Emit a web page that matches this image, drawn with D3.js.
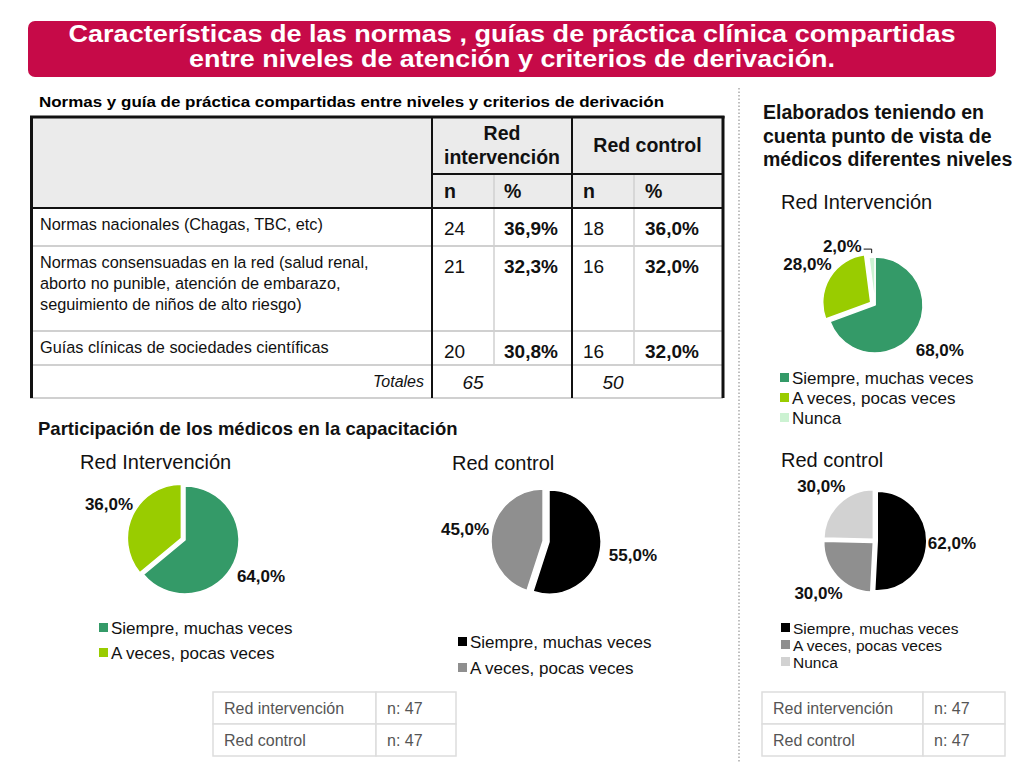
<!DOCTYPE html>
<html><head><meta charset="utf-8">
<script src="https://cdn.jsdelivr.net/npm/d3@7"></script>
<style>body{margin:0;background:#fff}svg{display:block;font-family:"Liberation Sans",Arial,Helvetica,sans-serif}</style>
</head><body><svg id="c" width="1024" height="768"></svg>
<script>
// ---------- DATA ----------
const titleLines = ["Características de las normas , guías de práctica clínica compartidas",
                    "entre niveles de atención y criterios de derivación."];
const tableTitle = "Normas y guía de práctica compartidas entre niveles y criterios de derivación";
const groupHeaders = [["Red","intervención"],["Red control"]];
const subHeaders = ["n","%","n","%"];
const rowLabels = [["Normas nacionales (Chagas, TBC, etc)"],
                   ["Normas consensuadas en la red (salud renal,","aborto no punible, atención de embarazo,","seguimiento de niños de alto riesgo)"],
                   ["Guías clínicas de sociedades científicas"]];
const intervN = [24,21,20];
const intervPct = [36.9,32.3,30.8];
const controlN = [18,16,16];
const controlPct = [36.0,32.0,32.0];
const totalsLabel = "Totales";
const totals = [65,50];

const partTitle = "Participación de los médicos en la capacitación";
const partCategories = ["Siempre, muchas veces","A veces, pocas veces"];
const partIntervencion = [64,36];
const partControl = [55,45];

const elabTitle = ["Elaborados teniendo en","cuenta punto de vista de","médicos diferentes niveles"];
const elabCategories = ["Siempre, muchas veces","A veces, pocas veces","Nunca"];
const elabIntervencion = [68,28,2];
const elabControl = [62,30,30];

const pieTitles = {pi:"Red Intervención", pc:"Red control"};
const sampleGroups = ["Red intervención","Red control"];
const sampleN = [47,47];

// ---------- DRAW ----------
const svg = d3.select("#c");
const fmt = v => v.toFixed(1).replace(".",",") + "%";

// Title banner
svg.append("rect").attr("x",28).attr("y",21).attr("width",968).attr("height",56)
  .attr("rx",7).attr("fill","#C60A48");
const titleW = [887, 646];
titleLines.forEach((t,i)=>{
  svg.append("text").attr("x",512).attr("y",42+i*25).attr("text-anchor","middle")
    .attr("fill","#fff").attr("font-weight","bold").attr("font-size",23.5)
    .style("font-family",'"Liberation Sans Narrow","Arial Narrow","Liberation Sans",Arial,sans-serif')
    .attr("textLength",titleW[i]).attr("lengthAdjust","spacingAndGlyphs").text(t);
});

// Dotted separator
svg.append("line").attr("x1",739).attr("x2",739).attr("y1",88).attr("y2",762)
  .attr("stroke","#aaa").attr("stroke-width",1.5).attr("stroke-dasharray","1.5,2");

// ---------- TABLE ----------
svg.append("text").attr("x",39).attr("y",107).attr("font-weight","bold").attr("font-size",15.5)
  .attr("textLength",625).attr("lengthAdjust","spacingAndGlyphs").text(tableTitle);

const colX = [30,432,494,572,634,723];
const rowY = [116,174,208,246,331,365,398];
const tg = svg.append("g");
tg.append("rect").attr("x",colX[0]).attr("y",rowY[0]).attr("width",colX[5]-colX[0]).attr("height",rowY[2]-rowY[0]).attr("fill","#EBEBEB");

// light lines
const light = "#D0D0D0";
[rowY[3],rowY[4],rowY[5],rowY[6]].forEach(y=>{
  tg.append("line").attr("x1",colX[0]).attr("x2",colX[5]).attr("y1",y).attr("y2",y).attr("stroke",light).attr("stroke-width",2);
});
[colX[2],colX[4]].forEach(x=>{
  tg.append("line").attr("x1",x).attr("x2",x).attr("y1",rowY[1]).attr("y2",rowY[5]).attr("stroke",light).attr("stroke-width",1.5);
});
// dark lines
const dark = "#111";
tg.append("line").attr("x1",colX[0]).attr("x2",colX[5]+1.5).attr("y1",rowY[0]+1).attr("y2",rowY[0]+1).attr("stroke",dark).attr("stroke-width",3);
tg.append("line").attr("x1",colX[0]+1.5).attr("x2",colX[0]+1.5).attr("y1",rowY[0]).attr("y2",rowY[6]).attr("stroke",dark).attr("stroke-width",3);
tg.append("line").attr("x1",colX[5]).attr("x2",colX[5]).attr("y1",rowY[0]).attr("y2",rowY[6]).attr("stroke",dark).attr("stroke-width",3);
[colX[1],colX[3]].forEach(x=>{
  tg.append("line").attr("x1",x).attr("x2",x).attr("y1",rowY[0]).attr("y2",rowY[6]).attr("stroke",dark).attr("stroke-width",2);
});
tg.append("line").attr("x1",colX[1]).attr("x2",colX[5]).attr("y1",rowY[1]).attr("y2",rowY[1]).attr("stroke",dark).attr("stroke-width",2);
tg.append("line").attr("x1",colX[0]).attr("x2",colX[5]).attr("y1",rowY[2]).attr("y2",rowY[2]).attr("stroke",dark).attr("stroke-width",2);

// headers
const hfs = 19.5;
groupHeaders.forEach((lines,gi)=>{
  const cx = (colX[1+gi*2] + colX[3+gi*2]) / 2;
  const startY = lines.length===2 ? 140 : 152;
  lines.forEach((l,li)=>{
    tg.append("text").attr("x",cx).attr("y",startY+li*24).attr("text-anchor","middle")
      .attr("font-weight","bold").attr("font-size",hfs).attr("fill","#111").text(l);
  });
});
const cellPad = [12,10,11,11];
subHeaders.forEach((s,i)=>{
  tg.append("text").attr("x",colX[1+i]+cellPad[i]).attr("y",198).attr("font-weight","bold")
    .attr("font-size",hfs).attr("fill","#111").text(s);
});
// data rows
rowLabels.forEach((lines,ri)=>{
  const top = rowY[2+ri];
  lines.forEach((l,li)=>{
    tg.append("text").attr("x",40).attr("y",top+22+li*21).attr("font-size",16.3).attr("fill","#111").text(l);
  });
  const cells = [String(intervN[ri]), fmt(intervPct[ri]), String(controlN[ri]), fmt(controlPct[ri])];
  cells.forEach((c,ci)=>{
    tg.append("text").attr("x",colX[1+ci]+cellPad[ci]).attr("y",top+27).attr("font-size",19)
      .attr("font-weight", ci%2===1 ? "bold" : "normal").attr("fill","#111").text(c);
  });
});
// totals
tg.append("text").attr("x",424).attr("y",387).attr("text-anchor","end").attr("font-style","italic")
  .attr("font-size",16).attr("fill","#111").text(totalsLabel);
totals.forEach((t,i)=>{
  tg.append("text").attr("x",(colX[1+i*2]+colX[2+i*2])/2 + 10).attr("y",389).attr("text-anchor","middle")
    .attr("font-style","italic").attr("font-size",19).attr("fill","#111").text(t);
});

// ---------- PIES ----------
const greens = ["#349A68","#99CC00","#CCF2D2"];
const greys = ["#000000","#8F8F8F","#D2D2D2"];

function drawPie(cfg){
  const g = svg.append("g");
  const arcs = d3.pie().sort(null).value(d=>d)(cfg.values);
  const arc = d3.arc().innerRadius(0).outerRadius(cfg.r);
  g.selectAll("path").data(arcs).join("path")
    .attr("d", arc)
    .attr("transform",(d,i)=>{
      const a=(d.startAngle+d.endAngle)/2, e=cfg.explode[i]||0;
      return `translate(${cfg.cx+Math.sin(a)*e},${cfg.cy-Math.cos(a)*e})`;
    })
    .attr("fill",(d,i)=>cfg.colors[i]).attr("stroke","#fff").attr("stroke-width",cfg.stroke);
  arcs.forEach((d,i)=>{
    const a=(d.startAngle+d.endAngle)/2;
    const label = fmt(cfg.values[i]);
    if (d.endAngle-d.startAngle < 0.2) {
      const px = cfg.cx + Math.sin(a)*(cfg.r+4), py = cfg.cy - Math.cos(a)*(cfg.r+4);
      g.append("polyline").attr("points",`${px},${py} ${px},${py-4} ${px-8},${py-4}`)
        .attr("fill","none").attr("stroke","#111").attr("stroke-width",1);
      g.append("text").attr("x",px-10).attr("y",py-4+3).attr("text-anchor","end")
        .attr("font-weight","bold").attr("font-size",17).attr("fill","#111").text(label);
    } else {
      const off = cfg.r + cfg.labelOff;
      g.append("text").attr("x",cfg.cx+Math.sin(a)*off).attr("y",cfg.cy-Math.cos(a)*off+6)
        .attr("text-anchor","middle").attr("font-weight","bold").attr("font-size",17)
        .attr("fill","#111").text(label);
    }
  });
}
function drawLegend(x,y0,step,items,colors,fs){
  items.forEach((t,i)=>{
    svg.append("rect").attr("x",x).attr("y",y0+i*step-5).attr("width",9).attr("height",9).attr("fill",colors[i]);
    svg.append("text").attr("x",x+12).attr("y",y0+i*step+6).attr("font-size",fs||17).attr("fill","#111").text(t);
  });
}
function pieTitle(x,y,t){
  svg.append("text").attr("x",x).attr("y",y).attr("font-size",20).attr("fill","#111").text(t);
}

// Participación
svg.append("text").attr("x",38).attr("y",435).attr("font-weight","bold").attr("font-size",18.5).attr("fill","#111").text(partTitle);
pieTitle(80,469,pieTitles.pi);
drawPie({cx:185,cy:540,r:54,values:partIntervencion,colors:greens,explode:[0,4],stroke:1.5,labelOff:30});
drawLegend(99,628,25,partCategories,greens);

pieTitle(452,470,pieTitles.pc);
drawPie({cx:549,cy:542,r:52,values:partControl,colors:greys,explode:[0,6],stroke:1.5,labelOff:33});
drawLegend(458,642,26,partCategories,greys);

// Elaborados
elabTitle.forEach((l,i)=>{
  svg.append("text").attr("x",763).attr("y",119+i*23.5).attr("font-weight","bold").attr("font-size",19.5).attr("fill","#111").text(l);
});
pieTitle(781,209,pieTitles.pi);
drawPie({cx:875,cy:305,r:48,values:elabIntervencion,colors:greens,explode:[0,5,0],stroke:1.5,labelOff:31});
drawLegend(780,378,20,elabCategories,greens);

pieTitle(781,467,pieTitles.pc);
drawPie({cx:875,cy:541,r:50,values:elabControl,colors:greys,explode:[2,2,2],stroke:2,labelOff:27});
drawLegend(781,628,17,elabCategories,greys,15.5);

// Sample size tables
function sampleTable(x,y,w1,w2){
  const rh = 32;
  const g = svg.append("g");
  sampleGroups.forEach((s,i)=>{
    g.append("rect").attr("x",x).attr("y",y+i*rh).attr("width",w1).attr("height",rh).attr("fill","#fff").attr("stroke","#DDD").attr("stroke-width",1.5);
    g.append("rect").attr("x",x+w1).attr("y",y+i*rh).attr("width",w2).attr("height",rh).attr("fill","#fff").attr("stroke","#DDD").attr("stroke-width",1.5);
    g.append("text").attr("x",x+11).attr("y",y+i*rh+22).attr("font-size",16).attr("fill","#555").text(s);
    g.append("text").attr("x",x+w1+11).attr("y",y+i*rh+22).attr("font-size",16).attr("fill","#555").text("n: "+sampleN[i]);
  });
}
sampleTable(213,692,163,80);
sampleTable(762,692,161,82);
</script></body></html>
